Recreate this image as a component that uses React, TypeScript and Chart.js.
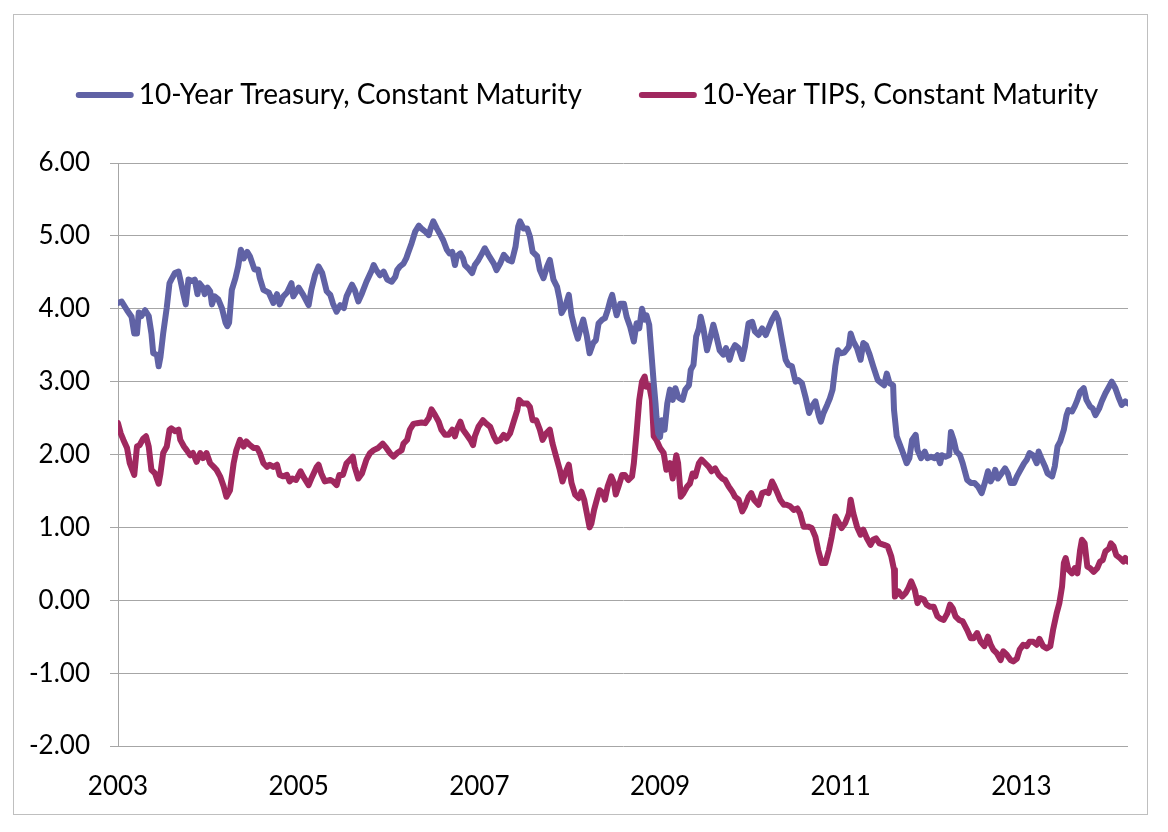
import React, { useEffect, useRef } from "react";
import { Chart, registerables } from "chart.js";

Chart.register(...registerables);

const seriesLabels = [
  "10-Year Treasury, Constant Maturity",
  "10-Year TIPS, Constant Maturity",
];
const seriesColors = ["#6062A5", "#A0285F"];
const xTickYears = [2003, 2005, 2007, 2009, 2011, 2013];
const yTickValues = [-2, -1, 0, 1, 2, 3, 4, 5, 6];

const treasuryDates = [
  2003.00, 2003.04, 2003.10, 2003.15, 2003.18, 2003.21, 2003.23, 2003.26, 2003.30, 2003.34,
  2003.37, 2003.39, 2003.43, 2003.45, 2003.47, 2003.50, 2003.54, 2003.57, 2003.59, 2003.63,
  2003.67, 2003.69, 2003.72, 2003.75, 2003.78, 2003.82, 2003.85, 2003.88, 2003.90, 2003.94,
  2003.96, 2003.99, 2004.02, 2004.04, 2004.07, 2004.11, 2004.15, 2004.19, 2004.21, 2004.23,
  2004.26, 2004.30, 2004.33, 2004.36, 2004.39, 2004.43, 2004.46, 2004.51, 2004.55, 2004.57,
  2004.61, 2004.67, 2004.72, 2004.76, 2004.79, 2004.83, 2004.87, 2004.92, 2004.94, 2005.00,
  2005.05, 2005.11, 2005.14, 2005.18, 2005.22, 2005.26, 2005.31, 2005.35, 2005.38, 2005.42,
  2005.46, 2005.50, 2005.53, 2005.59, 2005.62, 2005.66, 2005.70, 2005.75, 2005.81, 2005.83,
  2005.86, 2005.90, 2005.94, 2005.98, 2006.03, 2006.07, 2006.09, 2006.12, 2006.16, 2006.19,
  2006.21, 2006.25, 2006.29, 2006.33, 2006.36, 2006.40, 2006.44, 2006.46, 2006.49, 2006.53,
  2006.57, 2006.60, 2006.64, 2006.67, 2006.70, 2006.73, 2006.75, 2006.79, 2006.82, 2006.84,
  2006.88, 2006.92, 2006.95, 2006.99, 2007.03, 2007.06, 2007.10, 2007.16, 2007.19, 2007.23,
  2007.27, 2007.32, 2007.36, 2007.40, 2007.43, 2007.45, 2007.49, 2007.53, 2007.56, 2007.59,
  2007.64, 2007.67, 2007.71, 2007.75, 2007.78, 2007.82, 2007.86, 2007.89, 2007.91, 2007.95,
  2007.99, 2008.02, 2008.06, 2008.09, 2008.12, 2008.15, 2008.19, 2008.22, 2008.26, 2008.29,
  2008.32, 2008.36, 2008.39, 2008.42, 2008.45, 2008.47, 2008.49, 2008.52, 2008.56, 2008.60,
  2008.63, 2008.67, 2008.71, 2008.74, 2008.77, 2008.80, 2008.83, 2008.85, 2008.88, 2008.91,
  2008.93, 2008.95, 2008.96, 2008.98, 2009.00, 2009.02, 2009.05, 2009.08, 2009.11, 2009.14,
  2009.17, 2009.20, 2009.22, 2009.25, 2009.28, 2009.32, 2009.34, 2009.37, 2009.40, 2009.43,
  2009.45, 2009.48, 2009.52, 2009.56, 2009.59, 2009.62, 2009.66, 2009.70, 2009.73, 2009.77,
  2009.80, 2009.83, 2009.87, 2009.91, 2009.94, 2009.98, 2010.02, 2010.05, 2010.09, 2010.13,
  2010.17, 2010.20, 2010.24, 2010.28, 2010.31, 2010.35, 2010.39, 2010.42, 2010.46, 2010.50,
  2010.53, 2010.57, 2010.61, 2010.65, 2010.68, 2010.72, 2010.76, 2010.78, 2010.81, 2010.85,
  2010.88, 2010.91, 2010.94, 2010.97, 2011.00, 2011.04, 2011.09, 2011.11, 2011.14, 2011.18,
  2011.22, 2011.25, 2011.28, 2011.32, 2011.36, 2011.41, 2011.45, 2011.48, 2011.51, 2011.54,
  2011.58, 2011.59, 2011.62, 2011.65, 2011.69, 2011.73, 2011.76, 2011.79, 2011.83, 2011.85,
  2011.89, 2011.93, 2011.96, 2012.00, 2012.04, 2012.07, 2012.10, 2012.12, 2012.16, 2012.20,
  2012.22, 2012.25, 2012.28, 2012.32, 2012.35, 2012.40, 2012.44, 2012.48, 2012.52, 2012.56,
  2012.60, 2012.63, 2012.66, 2012.69, 2012.71, 2012.74, 2012.78, 2012.82, 2012.85, 2012.88,
  2012.92, 2012.95, 2012.99, 2013.03, 2013.06, 2013.09, 2013.13, 2013.17, 2013.19, 2013.22,
  2013.26, 2013.29, 2013.34, 2013.37, 2013.40, 2013.43, 2013.47, 2013.50, 2013.52, 2013.56,
  2013.59, 2013.62, 2013.65, 2013.69, 2013.72, 2013.76, 2013.79, 2013.82, 2013.86, 2013.89,
  2013.93, 2013.97, 2014.00, 2014.04, 2014.08, 2014.11, 2014.15, 2014.18,
];

const treasuryYields = [
  4.08, 4.10, 3.98, 3.89, 3.66, 3.66, 3.95, 3.90, 3.98, 3.90,
  3.66, 3.39, 3.37, 3.21, 3.34, 3.66, 4.02, 4.35, 4.40, 4.49,
  4.51, 4.40, 4.22, 4.06, 4.40, 4.38, 4.40, 4.20, 4.35, 4.29,
  4.20, 4.29, 4.24, 4.06, 4.17, 4.13, 4.01, 3.81, 3.76, 3.81,
  4.26, 4.42, 4.58, 4.81, 4.69, 4.78, 4.72, 4.54, 4.54, 4.42,
  4.26, 4.22, 4.08, 4.20, 4.06, 4.17, 4.22, 4.35, 4.17, 4.29,
  4.19, 4.05, 4.26, 4.46, 4.58, 4.49, 4.24, 4.19, 4.07, 3.96,
  4.05, 4.01, 4.17, 4.33, 4.26, 4.10, 4.21, 4.37, 4.53, 4.60,
  4.53, 4.46, 4.51, 4.40, 4.37, 4.44, 4.53, 4.58, 4.62, 4.69,
  4.76, 4.90, 5.06, 5.14, 5.10, 5.06, 5.01, 5.10, 5.20, 5.10,
  5.01, 4.94, 4.81, 4.76, 4.78, 4.60, 4.72, 4.76, 4.69, 4.60,
  4.55, 4.49, 4.60, 4.67, 4.76, 4.83, 4.74, 4.62, 4.53, 4.62,
  4.74, 4.67, 4.65, 4.85, 5.13, 5.20, 5.10, 5.10, 4.99, 4.78,
  4.72, 4.53, 4.42, 4.58, 4.67, 4.40, 4.30, 4.12, 3.94, 4.03,
  4.19, 3.91, 3.71, 3.59, 3.73, 3.85, 3.62, 3.39, 3.53, 3.57,
  3.80, 3.85, 3.87, 3.98, 4.12, 4.19, 4.07, 3.91, 4.07, 4.07,
  3.89, 3.75, 3.55, 3.80, 3.73, 4.00, 3.85, 3.91, 3.78, 3.30,
  2.98, 2.70, 2.52, 2.29, 2.24, 2.47, 2.34, 2.70, 2.89, 2.75,
  2.91, 2.79, 2.77, 2.75, 2.89, 2.95, 3.16, 3.23, 3.62, 3.73,
  3.89, 3.73, 3.43, 3.62, 3.78, 3.64, 3.43, 3.37, 3.46, 3.30,
  3.43, 3.50, 3.46, 3.31, 3.48, 3.80, 3.82, 3.69, 3.64, 3.73,
  3.64, 3.73, 3.85, 3.94, 3.85, 3.57, 3.30, 3.23, 3.21, 3.00,
  3.02, 2.98, 2.79, 2.57, 2.66, 2.73, 2.52, 2.45, 2.57, 2.68,
  2.77, 2.89, 3.21, 3.43, 3.39, 3.40, 3.48, 3.66, 3.55, 3.46,
  3.30, 3.53, 3.50, 3.37, 3.21, 3.02, 2.98, 2.95, 3.11, 2.98,
  2.95, 2.61, 2.25, 2.15, 2.02, 1.88, 1.95, 2.20, 2.27, 2.06,
  1.95, 2.04, 1.95, 1.97, 1.95, 1.99, 1.88, 1.99, 1.97, 1.99,
  2.31, 2.20, 2.04, 1.99, 1.88, 1.65, 1.61, 1.61, 1.56, 1.47,
  1.63, 1.77, 1.63, 1.70, 1.79, 1.67, 1.74, 1.81, 1.74, 1.61,
  1.61, 1.70, 1.79, 1.88, 1.93, 2.02, 1.99, 1.88, 2.04, 1.95,
  1.84, 1.74, 1.70, 1.84, 2.11, 2.18, 2.34, 2.54, 2.61, 2.59,
  2.66, 2.75, 2.86, 2.91, 2.75, 2.66, 2.63, 2.54, 2.63, 2.73,
  2.84, 2.93, 3.00, 2.91, 2.77, 2.68, 2.73, 2.70,
];

const tipsDates = [
  2003.00, 2003.03, 2003.06, 2003.10, 2003.13, 2003.18, 2003.21, 2003.24, 2003.28, 2003.31,
  2003.34, 2003.37, 2003.41, 2003.45, 2003.47, 2003.50, 2003.54, 2003.57, 2003.59, 2003.63,
  2003.67, 2003.69, 2003.73, 2003.76, 2003.80, 2003.83, 2003.87, 2003.91, 2003.94, 2003.98,
  2004.02, 2004.06, 2004.09, 2004.13, 2004.17, 2004.20, 2004.24, 2004.28, 2004.31, 2004.35,
  2004.39, 2004.42, 2004.46, 2004.50, 2004.54, 2004.57, 2004.61, 2004.65, 2004.68, 2004.72,
  2004.76, 2004.79, 2004.83, 2004.87, 2004.90, 2004.93, 2004.97, 2005.02, 2005.05, 2005.11,
  2005.14, 2005.20, 2005.22, 2005.25, 2005.29, 2005.35, 2005.38, 2005.42, 2005.45, 2005.49,
  2005.53, 2005.57, 2005.60, 2005.62, 2005.66, 2005.70, 2005.75, 2005.79, 2005.83, 2005.88,
  2005.93, 2005.97, 2006.01, 2006.05, 2006.09, 2006.14, 2006.16, 2006.20, 2006.23, 2006.27,
  2006.31, 2006.36, 2006.40, 2006.44, 2006.47, 2006.51, 2006.55, 2006.58, 2006.62, 2006.66,
  2006.70, 2006.73, 2006.75, 2006.79, 2006.82, 2006.86, 2006.90, 2006.93, 2006.95, 2006.99,
  2007.04, 2007.07, 2007.12, 2007.16, 2007.19, 2007.23, 2007.27, 2007.30, 2007.34, 2007.38,
  2007.42, 2007.44, 2007.48, 2007.53, 2007.56, 2007.59, 2007.63, 2007.67, 2007.70, 2007.74,
  2007.78, 2007.81, 2007.85, 2007.89, 2007.92, 2007.95, 2007.99, 2008.02, 2008.06, 2008.10,
  2008.13, 2008.16, 2008.19, 2008.22, 2008.24, 2008.27, 2008.30, 2008.33, 2008.37, 2008.39,
  2008.42, 2008.46, 2008.49, 2008.51, 2008.54, 2008.58, 2008.61, 2008.65, 2008.69, 2008.71,
  2008.74, 2008.77, 2008.80, 2008.83, 2008.85, 2008.88, 2008.91, 2008.93, 2008.96, 2009.00,
  2009.04, 2009.07, 2009.11, 2009.14, 2009.18, 2009.20, 2009.23, 2009.26, 2009.30, 2009.33,
  2009.36, 2009.39, 2009.43, 2009.46, 2009.50, 2009.54, 2009.57, 2009.61, 2009.65, 2009.69,
  2009.72, 2009.76, 2009.80, 2009.83, 2009.87, 2009.91, 2009.94, 2009.98, 2010.01, 2010.04,
  2010.09, 2010.13, 2010.17, 2010.20, 2010.24, 2010.26, 2010.30, 2010.33, 2010.37, 2010.40,
  2010.44, 2010.48, 2010.52, 2010.55, 2010.59, 2010.64, 2010.68, 2010.72, 2010.75, 2010.79,
  2010.83, 2010.87, 2010.90, 2010.94, 2010.98, 2011.01, 2011.05, 2011.09, 2011.11, 2011.14,
  2011.18, 2011.22, 2011.25, 2011.29, 2011.33, 2011.36, 2011.39, 2011.43, 2011.48, 2011.52,
  2011.56, 2011.59, 2011.60, 2011.64, 2011.68, 2011.72, 2011.75, 2011.78, 2011.82, 2011.85,
  2011.88, 2011.92, 2011.95, 2011.99, 2012.03, 2012.07, 2012.10, 2012.14, 2012.18, 2012.21,
  2012.24, 2012.27, 2012.31, 2012.35, 2012.40, 2012.44, 2012.47, 2012.51, 2012.55, 2012.59,
  2012.63, 2012.66, 2012.69, 2012.73, 2012.77, 2012.80, 2012.84, 2012.88, 2012.91, 2012.95,
  2012.98, 2013.02, 2013.06, 2013.09, 2013.13, 2013.17, 2013.20, 2013.24, 2013.28, 2013.32,
  2013.35, 2013.39, 2013.42, 2013.45, 2013.47, 2013.49, 2013.52, 2013.56, 2013.59, 2013.62,
  2013.65, 2013.67, 2013.70, 2013.73, 2013.76, 2013.80, 2013.84, 2013.87, 2013.90, 2013.93,
  2013.97, 2013.99, 2014.02, 2014.05, 2014.09, 2014.13, 2014.15, 2014.18,
];

const tipsYields = [
  2.43, 2.29, 2.20, 2.09, 1.88, 1.72, 2.11, 2.13, 2.22, 2.25,
  2.11, 1.79, 1.74, 1.60, 1.74, 2.02, 2.11, 2.34, 2.36, 2.32,
  2.34, 2.20, 2.11, 2.06, 1.99, 2.02, 1.90, 2.02, 1.95, 2.02,
  1.88, 1.83, 1.79, 1.70, 1.56, 1.42, 1.51, 1.88, 2.06, 2.20,
  2.11, 2.18, 2.13, 2.09, 2.09, 2.02, 1.88, 1.83, 1.86, 1.83,
  1.86, 1.72, 1.70, 1.72, 1.63, 1.67, 1.65, 1.77, 1.70, 1.58,
  1.67, 1.83, 1.86, 1.74, 1.63, 1.65, 1.63, 1.58, 1.72, 1.72,
  1.88, 1.93, 1.97, 1.83, 1.67, 1.74, 1.93, 2.02, 2.06, 2.09,
  2.15, 2.09, 2.02, 1.97, 2.02, 2.06, 2.15, 2.20, 2.34, 2.42,
  2.43, 2.44, 2.43, 2.50, 2.62, 2.54, 2.45, 2.34, 2.27, 2.27,
  2.34, 2.25, 2.34, 2.45, 2.34, 2.27, 2.20, 2.13, 2.25, 2.38,
  2.47, 2.43, 2.38, 2.25, 2.18, 2.20, 2.27, 2.22, 2.29, 2.45,
  2.61, 2.75, 2.70, 2.70, 2.65, 2.47, 2.47, 2.34, 2.20, 2.29,
  2.34, 2.15, 1.97, 1.79, 1.63, 1.74, 1.86, 1.61, 1.45, 1.40,
  1.49, 1.38, 1.19, 1.00, 1.05, 1.24, 1.38, 1.51, 1.47, 1.38,
  1.56, 1.70, 1.61, 1.45, 1.56, 1.72, 1.72, 1.65, 1.70, 1.88,
  2.29, 2.75, 3.00, 3.07, 2.93, 2.95, 2.75, 2.25, 2.20, 2.09,
  2.02, 1.79, 1.88, 1.67, 1.99, 1.88, 1.42, 1.47, 1.56, 1.60,
  1.74, 1.70, 1.88, 1.93, 1.88, 1.83, 1.77, 1.81, 1.72, 1.67,
  1.65, 1.56, 1.49, 1.42, 1.38, 1.22, 1.29, 1.42, 1.47, 1.38,
  1.31, 1.47, 1.49, 1.47, 1.63, 1.58, 1.47, 1.38, 1.31, 1.31,
  1.29, 1.24, 1.26, 1.19, 1.01, 1.01, 0.99, 0.87, 0.69, 0.51,
  0.51, 0.69, 0.87, 1.15, 1.06, 0.99, 1.06, 1.19, 1.38, 1.19,
  1.01, 0.90, 0.97, 0.85, 0.76, 0.83, 0.85, 0.78, 0.76, 0.74,
  0.60, 0.42, 0.05, 0.12, 0.05, 0.10, 0.17, 0.26, 0.14, -0.04,
  0.03, 0.01, -0.06, -0.09, -0.09, -0.22, -0.25, -0.27, -0.18, -0.06,
  -0.11, -0.22, -0.27, -0.29, -0.41, -0.52, -0.52, -0.45, -0.57, -0.63,
  -0.50, -0.61, -0.68, -0.73, -0.82, -0.70, -0.75, -0.82, -0.84, -0.80,
  -0.68, -0.61, -0.63, -0.57, -0.57, -0.61, -0.53, -0.63, -0.66, -0.63,
  -0.41, -0.18, -0.04, 0.19, 0.51, 0.58, 0.42, 0.37, 0.44, 0.37,
  0.69, 0.83, 0.78, 0.46, 0.44, 0.39, 0.44, 0.53, 0.55, 0.67,
  0.71, 0.78, 0.74, 0.62, 0.58, 0.53, 0.58, 0.53,
];

const xMin = 2003;
const xMax = 2014.18;
const yMin = -2;
const yMax = 6;

const FONT_FAMILY = "Lato, 'Open Sans', 'DejaVu Sans', sans-serif";

const toPoints = (xs: number[], ys: number[]) => xs.map((x, i) => ({ x, y: ys[i] }));

const framePlugin = {
  id: "frame",
  beforeDraw(chart: any) {
    const { ctx, width, height } = chart;
    ctx.save();
    ctx.fillStyle = "#ffffff";
    ctx.fillRect(0, 0, width, height);
    ctx.strokeStyle = "#bfbfbf";
    ctx.lineWidth = 1;
    ctx.strokeRect(13.5, 14.5, 1134, 800);
    ctx.restore();
  },
};

const lineLegendPlugin = {
  id: "lineLegend",
  afterDraw(chart: any) {
    const { ctx } = chart;
    ctx.save();
    ctx.font = `28px ${FONT_FAMILY}`;
    const swatch = 58;
    const gap = 5;
    const between = 57;
    const items = chart.data.datasets.map((ds: any) => ({
      label: ds.label,
      color: ds.borderColor,
      w: ctx.measureText(ds.label).width,
    }));
    const total =
      items.reduce((s: number, it: any) => s + swatch + gap + it.w, 0) +
      between * (items.length - 1);
    let x = 587 - total / 2;
    const y = 95;
    items.forEach((it: any) => {
      ctx.strokeStyle = it.color;
      ctx.lineWidth = 6;
      ctx.lineCap = "round";
      ctx.beginPath();
      ctx.moveTo(x + 3, y);
      ctx.lineTo(x + swatch - 3, y);
      ctx.stroke();
      x += swatch + gap;
      ctx.fillStyle = "#000000";
      ctx.textBaseline = "middle";
      ctx.textAlign = "left";
      ctx.fillText(it.label, x, y);
      x += it.w + between;
    });
    ctx.restore();
  },
};

export default function App() {
  const canvasRef = useRef<HTMLCanvasElement | null>(null);

  useEffect(() => {
    if (!canvasRef.current) return;
    const tickFont = { family: FONT_FAMILY, size: 26 };
    const chart = new Chart(canvasRef.current, {
      type: "line",
      data: {
        datasets: [
          {
            label: seriesLabels[0],
            data: toPoints(treasuryDates, treasuryYields),
            borderColor: seriesColors[0],
            backgroundColor: seriesColors[0],
            borderWidth: 6,
            pointRadius: 0,
            tension: 0,
            borderJoinStyle: "round",
            borderCapStyle: "round",
          },
          {
            label: seriesLabels[1],
            data: toPoints(tipsDates, tipsYields),
            borderColor: seriesColors[1],
            backgroundColor: seriesColors[1],
            borderWidth: 6,
            pointRadius: 0,
            tension: 0,
            borderJoinStyle: "round",
            borderCapStyle: "round",
          },
        ],
      },
      options: {
        responsive: false,
        animation: false,
        events: [],
        layout: { padding: { left: 0, right: 40, top: 163, bottom: 36 } },
        plugins: {
          legend: { display: false },
          tooltip: { enabled: false },
        },
        scales: {
          x: {
            type: "linear",
            min: xMin,
            max: xMax,
            afterBuildTicks: (axis: any) => {
              axis.ticks = xTickYears.map((v) => ({ value: v }));
            },
            afterFit: (axis: any) => {
              axis.height = 50;
            },
            ticks: {
              callback: (v: any) => String(v),
              font: tickFont,
              color: "#000000",
              padding: 25,
              maxRotation: 0,
              autoSkip: false,
            },
            grid: { display: false, drawTicks: false },
            border: { display: false },
          },
          y: {
            type: "linear",
            min: yMin,
            max: yMax,
            afterBuildTicks: (axis: any) => {
              axis.ticks = yTickValues.map((v) => ({ value: v }));
            },
            afterFit: (axis: any) => {
              axis.width = 118;
            },
            ticks: {
              callback: (v: any) => Number(v).toFixed(2),
              font: tickFont,
              color: "#000000",
              padding: 20,
            },
            grid: { color: "#a6a6a6", lineWidth: 1, tickLength: 8, drawTicks: true },
            border: { display: true, color: "#a6a6a6", width: 1 },
          },
        },
      } as any,
      plugins: [framePlugin, lineLegendPlugin],
    });
    return () => chart.destroy();
  }, []);

  return (
    <div style={{ position: "fixed", left: 0, top: 0, width: 1168, height: 832, background: "#fff" }}>
      <canvas ref={canvasRef} width={1168} height={832} style={{ display: "block" }} />
    </div>
  );
}
